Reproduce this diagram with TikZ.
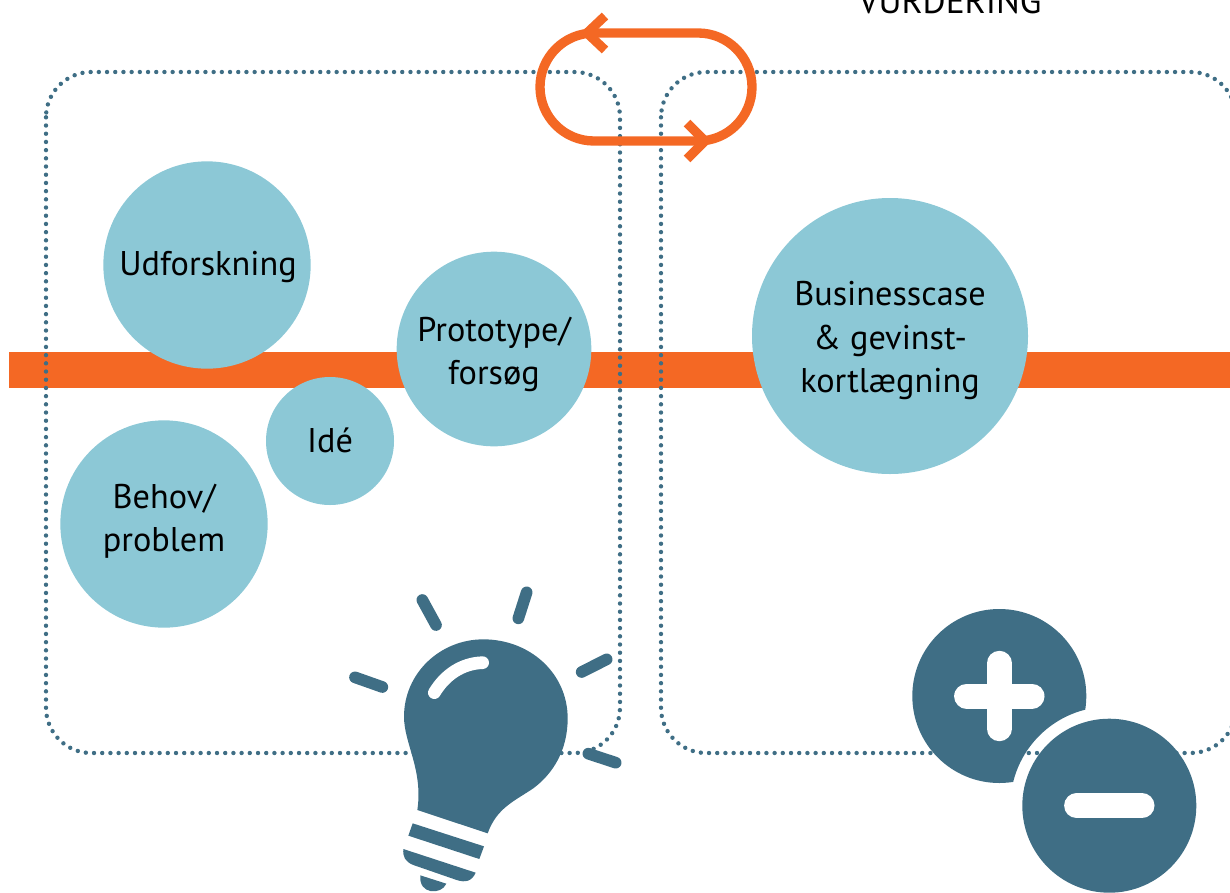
\documentclass[tikz,border=0pt]{standalone}
\usepackage{fontspec}
\setmainfont{PT Sans}
\usepackage{tikz}
\definecolor{barorange}{RGB}{244,104,36}
\definecolor{bubbleblue}{RGB}{140,200,214}
\definecolor{darkteal}{RGB}{63,110,133}
\tikzset{
  bubble/.style={circle, fill=bubbleblue, inner sep=0pt},
  bubbletext/.style={align=center, inner sep=0pt, font=\fontsize{25.7}{32.6}\selectfont, text=black},
  frame/.style={darkteal, line width=3.3pt, line cap=round, dash pattern=on 0pt off 6.15pt, rounded corners=34pt},
  ray/.style={darkteal, line width=8.75pt, line cap=round},
  cutbar/.style={white, line width=18.75pt, line cap=round},
  loopline/.style={barorange, line width=7pt}
}
\begin{document}
\begin{tikzpicture}[x=0.75pt, y=-0.75pt]
    \useasboundingbox (0,0) rectangle (1230,892);
    \clip (0,0) rectangle (1230,892);

    % Bar and dotted frames
    \fill[barorange] (9,352) rectangle (1230,388);
    \draw[frame] (46,72) rectangle (620,753);
    \draw[frame] (661,72) rectangle (1236,753);

    % Title
    \node[font=\fontsize{26.5}{30}\selectfont, anchor=base] (title) at (950,14) {VURDERING};

    % Bubbles
    \node[bubble, minimum size=155.5pt] (explore) at (207,265) {};
    \node[bubble, minimum size=146pt] (proto) at (494,349) {};
    \node[bubble, minimum size=96pt] (idea) at (330,441) {};
    \node[bubble, minimum size=155.5pt] (need) at (164,524) {};
    \node[bubble, minimum size=207pt] (case) at (890,336) {};

    % Bubble texts
    \node[bubbletext] (exploretext) at ([xshift=0.75pt, yshift=-1.5pt]explore) {Udforskning};
    \node[bubbletext] (prototext) at ([yshift=-4pt]proto) {Prototype/\\forsøg};
    \node[bubbletext] (ideatext) at ([yshift=0.75pt]idea) {Idé};
    \node[bubbletext] (needtext) at ([yshift=2.25pt]need) {Behov/\\problem};
    \node[bubbletext] (casetext) at ([yshift=-3.5pt]case) {Businesscase\\\& gevinst-\\kortlægning};

    % Loop with the two chevrons
    \draw[loopline, rounded corners=40.5pt] (646,33) -- (540,33) -- (540,141) -- (752,141) -- (752,33) -- cycle;
    \draw[loopline] (605,16) -- (587,33) -- (605,50);
    \draw[loopline] (687,123) -- (705,141) -- (687,159);

    % Light bulb
    \begin{scope}[shift={(340,570)}, x=0.25pt, y=-0.25pt]
      \fill[darkteal] (430,208) .. controls (300,208) and (192,310) .. (192,440)
        .. controls (192,520) and (250,600) .. (232,720) -- (443,790)
        .. controls (470,715) and (520,695) .. (580,655)
        .. controls (640,610) and (683,540) .. (683,445)
        .. controls (683,310) and (570,208) .. (430,208) -- cycle;
      \draw[white, line width=9.5pt, line cap=round] (283,368) .. controls (315,315) and (365,280) .. (428,278);
      \fill[darkteal] (218,760) -- (432,829) -- (418,867) -- (205,797) -- cycle;
      \fill[darkteal] (190,837) -- (407,908) .. controls (395,935) and (375,938) .. (350,930)
        -- (220,885) .. controls (195,875) and (188,860) .. (190,837) -- cycle;
      \fill[darkteal] (241,916) -- (319,941) .. controls (305,975) and (235,975) .. (241,916) -- cycle;
      \draw[ray] (247,90) -- (288,165);
      \draw[ray] (560,67) -- (535,145);
      \draw[ray] (800,268) -- (725,306);
      \draw[ray] (45,322) -- (127,351);
      \draw[ray] (745,551) -- (827,578);
    \end{scope}

    % Plus and minus
    \begin{scope}[even odd rule]
      \clip (0,0) rectangle (1230,892) (1109.3,805.7) circle[radius=99];
      \fill[darkteal] (999.3,696) circle[radius=87];
    \end{scope}
    \fill[darkteal] (1109.3,805.7) circle[radius=87];
    \draw[cutbar] (966.6,696) -- (1032,696);
    \draw[cutbar] (999.3,663.3) -- (999.3,728.7);
    \draw[cutbar] (1076.6,805.7) -- (1142,805.7);
\end{tikzpicture}
\end{document}
